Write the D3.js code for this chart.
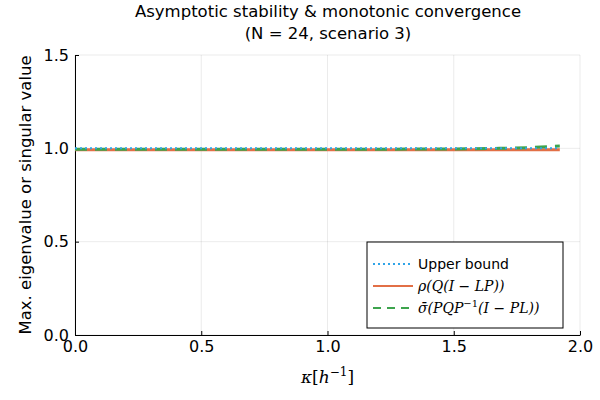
<!DOCTYPE html>
<html>
<head>
<meta charset="UTF-8">
<script src="https://d3js.org/d3.v7.min.js"></script>
<style>
  body { margin: 0; background: #fff; }
  text { font-family: "DejaVu Sans", sans-serif; }
  .tick text { font-size: 16px; fill: #000; }
  .math { font-family: "DejaVu Serif", serif; font-style: italic; }
</style>
</head>
<body>
<svg width="600" height="400"></svg>
<script>
const kappa = [0, 0.12, 0.24, 0.36, 0.48, 0.6, 0.72, 0.84, 0.96, 1.08, 1.2, 1.32, 1.44, 1.56, 1.68, 1.8, 1.92];
const upperBound = kappa.map(() => 1.0);
const rho = [0.992, 0.992, 0.992, 0.992, 0.992, 0.992, 0.992, 0.992, 0.992, 0.992, 0.992, 0.992, 0.992, 0.992, 0.992, 0.992, 0.992];
const sigma = [0.995, 0.995, 0.995, 0.995, 0.995, 0.995, 0.995, 0.995, 0.995, 0.995, 0.995, 0.996, 0.996, 0.998, 1.0, 1.004, 1.012];
const xTicks = [0, 0.5, 1.0, 1.5, 2.0];
const yTicks = [0, 0.5, 1.0, 1.5];

const margin = { left: 75, right: 20, top: 55, bottom: 65 };
const width = 600, height = 400;
const svg = d3.select('svg');

const x = d3.scaleLinear().domain([0, 2]).range([margin.left, width - margin.right]);
const y = d3.scaleLinear().domain([0, 1.5]).range([height - margin.bottom, margin.top]);

// grid
svg.append('g').selectAll('line').data(xTicks).enter().append('line')
  .attr('x1', d => x(d)).attr('x2', d => x(d))
  .attr('y1', y(0)).attr('y2', y(1.5))
  .attr('stroke', '#000').attr('stroke-opacity', 0.08);
svg.append('g').selectAll('line').data(yTicks).enter().append('line')
  .attr('x1', x(0)).attr('x2', x(2))
  .attr('y1', d => y(d)).attr('y2', d => y(d))
  .attr('stroke', '#000').attr('stroke-opacity', 0.08);

svg.append('g').attr('transform', `translate(0,${y(0)})`)
  .call(d3.axisBottom(x).tickValues(xTicks).tickFormat(d3.format('.1f')).tickSizeInner(-4).tickSizeOuter(0).tickPadding(6))
  .call(g => g.select('.domain').attr('stroke', '#000'));
svg.append('g').attr('transform', `translate(${x(0)},0)`)
  .call(d3.axisLeft(y).tickValues(yTicks).tickFormat(d3.format('.1f')).tickSizeInner(-4).tickSizeOuter(0).tickPadding(6))
  .call(g => g.select('.domain').attr('stroke', '#000'));

const line = vals => d3.line().x((d, i) => x(kappa[i])).y(d => y(d))(vals);
svg.append('path').attr('d', line(rho)).attr('fill', 'none')
  .attr('stroke', '#e26f46').attr('stroke-width', 3);
svg.append('path').attr('d', line(sigma)).attr('fill', 'none')
  .attr('stroke', '#3da44d').attr('stroke-width', 3).attr('stroke-dasharray', '12,8');
svg.append('path').attr('d', line(upperBound)).attr('fill', 'none')
  .attr('stroke', '#2fa4e8').attr('stroke-width', 2).attr('stroke-dasharray', '2,3');

// title
svg.append('text').attr('x', 328).attr('y', 17).attr('text-anchor', 'middle').attr('font-size', 16.5)
  .text('Asymptotic stability & monotonic convergence');
svg.append('text').attr('x', 328).attr('y', 39).attr('text-anchor', 'middle').attr('font-size', 16.5)
  .text('(N = 24, scenario 3)');

// axis labels
svg.append('text').attr('transform', `translate(31,${(y(0) + y(1.5)) / 2}) rotate(-90)`)
  .attr('text-anchor', 'middle').attr('font-size', 16.5).text('Max. eigenvalue or singular value');
const xl = svg.append('text').attr('x', x(1)).attr('y', 383).attr('text-anchor', 'middle')
  .attr('class', 'math').attr('font-size', 17);
xl.append('tspan').text('κ');
xl.append('tspan').attr('font-style', 'normal').text('[');
xl.append('tspan').text('h');
xl.append('tspan').attr('dy', -7).attr('font-size', 12).attr('font-style', 'normal').text('−1');
xl.append('tspan').attr('dy', 7).attr('font-style', 'normal').text(']');

// legend
const lg = svg.append('g').attr('transform', 'translate(367,242)');
lg.append('rect').attr('width', 196).attr('height', 86).attr('fill', '#fff').attr('stroke', '#000').attr('stroke-width', 1);
const items = [
  { c: '#2fa4e8', dash: '2,3', w: 2 },
  { c: '#e26f46', dash: null, w: 2 },
  { c: '#3da44d', dash: '8,6', w: 2 }
];
items.forEach((it, i) => {
  lg.append('line').attr('x1', 6).attr('x2', 46).attr('y1', 22 + i * 22).attr('y2', 22 + i * 22)
    .attr('stroke', it.c).attr('stroke-width', it.w).attr('stroke-dasharray', it.dash);
});
lg.append('text').attr('x', 51).attr('y', 27).attr('font-size', 14).text('Upper bound');
const t2 = lg.append('text').attr('x', 51).attr('y', 49).attr('font-size', 14).attr('class', 'math');
t2.text('ρ(Q(I − LP))');
const t3 = lg.append('text').attr('x', 51).attr('y', 71).attr('font-size', 14).attr('class', 'math');
t3.append('tspan').text('σ̄(PQP');
t3.append('tspan').attr('dy', -6).attr('font-size', 10).attr('font-style', 'normal').text('−1');
t3.append('tspan').attr('dy', 6).text('(I − PL))');
</script>
</body>
</html>
